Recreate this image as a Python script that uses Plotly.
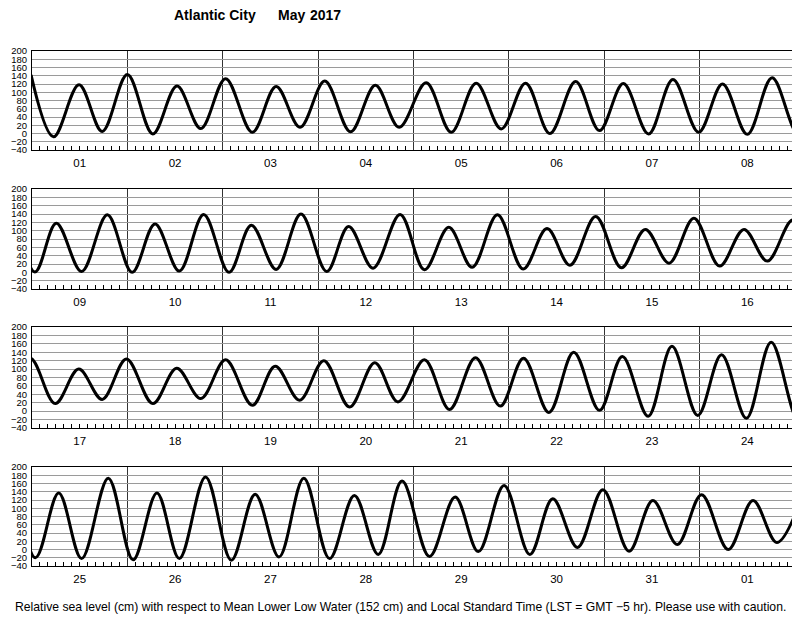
import pandas as pd
import plotly.graph_objects as go

# ---- data: times of high/low water (days since 2017-05-01 00:00 LST) and heights (cm)
panel1_days = [-0.01, 0.226, 0.493, 0.736, 1.0, 1.267, 1.52, 1.77, 2.03, 2.31, 2.56, 2.81,
               3.07, 3.34, 3.60, 3.85, 4.133, 4.395, 4.657, 4.92, 5.175, 5.43, 5.70, 5.95,
               6.20, 6.465, 6.72, 6.99, 7.24, 7.50, 7.76]
panel1_cm = [142, -8, 118, 5, 143, -1, 115, 12, 133, 3, 114, 15,
             127, 4, 117, 15, 123, 3, 122, 11, 122, 0, 126, 7,
             121, -1, 131, 3, 120, -2, 135]

panel2_days = [8.03, 8.255, 8.52, 8.79, 9.05, 9.29, 9.545, 9.80, 10.066, 10.30, 10.56, 10.82,
               11.09, 11.32, 11.576, 11.86, 12.115, 12.37, 12.615, 12.88, 13.15, 13.40, 13.64,
               13.91, 14.18, 14.43, 14.68, 14.94, 15.21, 15.465, 15.71, 15.98]
panel2_cm = [1, 118, 2, 138, 0, 116, 3, 139, 0, 113, 7, 140,
             2, 110, 10, 139, 6, 108, 12, 138, 8, 105, 17,
             134, 11, 103, 22, 130, 15, 103, 27, 126]

panel3_days = [16.243, 16.49, 16.736, 16.99, 17.267, 17.517, 17.77, 18.03, 18.31, 18.55,
               18.806, 19.06, 19.33, 19.594, 19.837, 20.115, 20.378, 20.65, 20.91, 21.154,
               21.42, 21.68, 21.95, 22.19, 22.46, 22.71, 22.98, 23.23, 23.49, 23.75]
panel3_cm = [18, 100, 28, 124, 18, 102, 30, 122, 14, 107,
             26, 120, 10, 115, 22, 122, 4, 127, 12, 126,
             -3, 140, 2, 130, -12, 154, -10, 134, -17, 164]

panel4_days = [24.035, 24.28, 24.52, 24.80, 25.06, 25.31, 25.545, 25.82, 26.09, 26.34,
               26.59, 26.85, 27.12, 27.38, 27.63, 27.88, 28.168, 28.437, 28.68, 28.95,
               29.22, 29.46, 29.72, 29.986, 30.26, 30.51, 30.766, 31.02, 31.30, 31.56,
               31.81, 32.07]
panel4_cm = [-20, 137, -22, 173, -25, 137, -22, 176, -26, 134,
             -18, 173, -22, 131, -12, 166, -17, 127, -5, 155,
             -12, 123, 5, 145, -4, 119, 12, 133, 0, 119,
             17, 126]

y_ticks = [-40, -20, 0, 20, 40, 60, 80, 100, 120, 140, 160, 180, 200]
start_date = "2017-05-01"
days_per_panel = 8
n_panels = 4
title_place = "Atlantic City"
title_month = "May"
title_year = "2017"
footnote = ("Relative sea level (cm) with respect to Mean Lower Low Water (152 cm) and "
            "Local Standard Time (LST = GMT \u22125 hr). Please use with caution.")

# ---- build
all_days = panel1_days + panel2_days + panel3_days + panel4_days
all_cm = panel1_cm + panel2_cm + panel3_cm + panel4_cm
base = pd.Timestamp(start_date)
times = [base + pd.to_timedelta(d, unit="D") for d in all_days]

W, H = 800, 618
OFF = 8  # page body margin in the browser


def px_x(p):
    return (p - OFF) / W


def px_y(p):
    return 1 - (p - OFF) / H


tops = [51, 189, 327, 467]
bots = [150, 289, 428, 566]
x0, x1 = px_x(32), px_x(795)

FONT = "Liberation Sans, Arial, Helvetica, sans-serif"
fig = go.Figure()
layout = dict(width=W, height=H,
              margin=dict(l=0, r=0, t=0, b=0, pad=0, autoexpand=False), autosize=False,
              plot_bgcolor="white", paper_bgcolor="white", showlegend=False,
              font=dict(family=FONT, color="black"))

for k in range(n_panels):
    sfx = "" if k == 0 else str(k + 1)
    fig.add_trace(go.Scatter(x=times, y=all_cm, mode="lines",
                             line=dict(color="black", width=3, shape="spline", smoothing=1.0),
                             xaxis="x" + sfx, yaxis="y" + sfx, hoverinfo="skip"))
    r0 = base + pd.Timedelta(days=days_per_panel * k)
    r1 = base + pd.Timedelta(days=days_per_panel * (k + 1))
    layout["xaxis" + sfx] = dict(
        type="date", range=[r0, r1], domain=[x0, x1], anchor="y" + sfx,
        tick0=start_date, dtick=86400000, ticklabelmode="period", tickformat="%d",
        ticks="", showgrid=True, gridcolor="#333333", gridwidth=1,
        showline=True, linecolor="black", linewidth=1, mirror=True,
        tickfont=dict(size=11.5, family=FONT), zeroline=False, automargin=False,
        ticklabelstandoff=2,
        minor=dict(dtick=7200000, tick0=start_date, ticks="inside", ticklen=4,
                   tickcolor="black", tickwidth=1, showgrid=False),
        fixedrange=True)
    layout["yaxis" + sfx] = dict(
        range=[-40, 200], domain=[px_y(bots[k]), px_y(tops[k])], anchor="x" + sfx,
        tickvals=y_ticks, ticktext=[str(v).replace("-", "\u2212") for v in y_ticks],
        showgrid=True, gridcolor="#9a9a9a", gridwidth=1, zeroline=False,
        showline=True, linecolor="black", linewidth=1, mirror=True, ticks="",
        ticklabelstandoff=2, tickfont=dict(size=9.5, family=FONT), fixedrange=True,
        automargin=False)

TFONT = dict(family=FONT, size=14, color="black")
ann = [
    dict(text="<b>" + title_place + "</b>", x=px_x(215), y=px_y(15), xref="paper", yref="paper",
         showarrow=False, font=TFONT, xanchor="center", yanchor="middle"),
    dict(text="<b>" + title_month + "</b>", x=px_x(291), y=px_y(15), xref="paper", yref="paper",
         showarrow=False, font=TFONT, xanchor="center", yanchor="middle"),
    dict(text="<b>" + title_year + "</b>", x=px_x(325), y=px_y(15), xref="paper", yref="paper",
         showarrow=False, font=TFONT, xanchor="center", yanchor="middle"),
    dict(text=footnote, x=px_x(400), y=px_y(607), xref="paper", yref="paper",
         showarrow=False, font=dict(family=FONT, size=12.2, color="black"),
         xanchor="center", yanchor="middle"),
]
layout["annotations"] = ann
fig.update_layout(**layout)
fig.write_html("out.html")
